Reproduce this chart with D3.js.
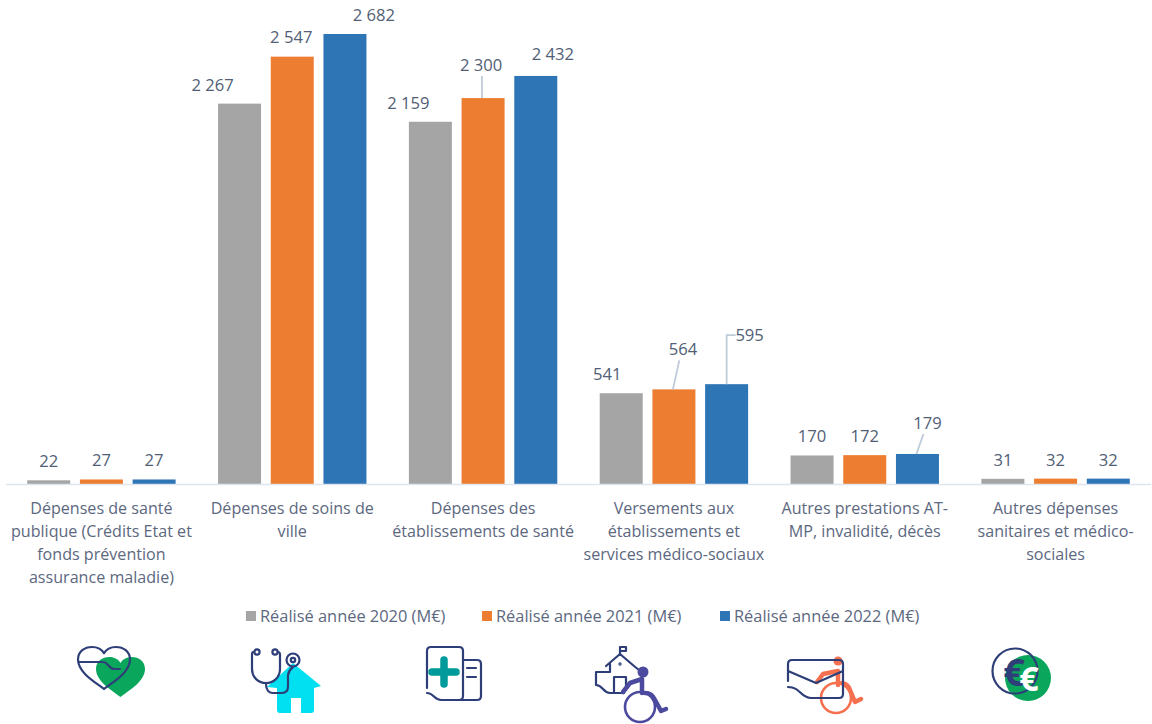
<!DOCTYPE html>
<html lang="fr">
<head>
<meta charset="utf-8">
<style>
  html, body { margin: 0; padding: 0; background: #fff; }
  svg { display: block; }
  text { font-family: "Open Sans", "Noto Sans", sans-serif; }
</style>
<script src="https://cdn.jsdelivr.net/npm/d3@7"></script>
</head>
<body>
<svg id="chart" width="1152" height="724"></svg>
<script>
// Dépenses par poste, en millions d'euros
const categories = [
  ["Dépenses de santé", "publique (Crédits Etat et", "fonds prévention", "assurance maladie)"],
  ["Dépenses de soins de", "ville"],
  ["Dépenses des", "établissements de santé"],
  ["Versements aux", "établissements et", "services médico-sociaux"],
  ["Autres prestations AT-", "MP, invalidité, décès"],
  ["Autres dépenses", "sanitaires et médico-", "sociales"]
];
const seriesNames = ["Réalisé année 2020 (M€)", "Réalisé année 2021 (M€)", "Réalisé année 2022 (M€)"];
const values2020 = [22, 2267, 2159, 541, 170, 31];
const values2021 = [27, 2547, 2300, 564, 172, 32];
const values2022 = [27, 2682, 2432, 595, 179, 32];
const seriesValues = [values2020, values2021, values2022];
const seriesColors = ["#a5a5a5", "#ed7d31", "#2e75b6"];

// Étiquettes déplacées à la main : [groupe, série, dx, dy, repère éventuel]
const labelMoves = [
  [1, 0, -27, 0], [1, 1, -1, -1], [1, 2, 29, 0],
  [2, 0, -22, 0], [2, 1, -2, -14, "slant"], [2, 2, 17, -3],
  [3, 0, -14, 0], [3, 1, 9, -21, "slant"], [3, 2, 23, -30, "elbow"],
  [4, 2, 10, -12, "slant"]
];

const svg = d3.select("#chart");
const baseY = 484;
const x0 = d3.scaleBand().domain(d3.range(categories.length)).range([6, 1151]).paddingInner(0).paddingOuter(0);
const y = d3.scaleLinear().domain([0, 2682]).range([baseY, 34]);
const barWidth = 43, barPitch = 52.7;
const barCenter = (g, s) => x0(g) + x0.bandwidth() / 2 + (s - 1) * barPitch;
const fmt = v => String(v).replace(/\B(?=(\d{3})+$)/g, " ");

// Barres groupées
seriesValues.forEach((vals, s) => {
  svg.append("g").selectAll("rect").data(vals).join("rect")
    .attr("x", (d, g) => barCenter(g, s) - barWidth / 2)
    .attr("y", d => y(d))
    .attr("width", barWidth)
    .attr("height", d => baseY - y(d))
    .attr("fill", seriesColors[s]);
});

// Axe horizontal
svg.append("line").attr("x1", 6).attr("x2", 1151).attr("y1", baseY + 0.5).attr("y2", baseY + 0.5)
  .attr("stroke", "#dfe5ee").attr("stroke-width", 1.5);

// Libellés de catégories
const catG = svg.append("g").attr("text-anchor", "middle").attr("fill", "#5c6880").attr("font-size", 16.1);
categories.forEach((lines, g) => {
  lines.forEach((line, i) => {
    catG.append("text").attr("x", x0(g) + x0.bandwidth() / 2).attr("y", 513.5 + i * 23).text(line);
  });
});

// Valeurs et repères
const labelG = svg.append("g").attr("text-anchor", "middle").attr("fill", "#515e75").attr("font-size", 16.6);
const leaderG = svg.append("g").attr("fill", "none").attr("stroke", "#bfcadb").attr("stroke-width", 1.8);
seriesValues.forEach((vals, s) => {
  vals.forEach((v, g) => {
    const move = labelMoves.find(m => m[0] === g && m[1] === s) || [g, s, 0, 0];
    const cx = barCenter(g, s), top = y(v);
    const lx = cx + move[2], ly = top - 19 + move[3];
    labelG.append("text").attr("x", lx).attr("y", ly + 6).text(fmt(v));
    if (move[4] === "slant") {
      leaderG.append("path").attr("d", `M${cx - 1},${top} L${cx + 0.6 * move[2]},${ly + 11}`);
    } else if (move[4] === "elbow") {
      leaderG.append("path").attr("d", `M${cx},${top} V${ly} H${lx - 14}`);
    }
  });
});

// Légende
const legendX = [246, 482, 720];
const legG = svg.append("g").attr("fill", "#5c6880").attr("font-size", 16.4);
seriesNames.forEach((name, s) => {
  legG.append("rect").attr("x", legendX[s]).attr("y", 611).attr("width", 10).attr("height", 10).attr("fill", seriesColors[s]);
  legG.append("text").attr("x", legendX[s] + 14).attr("y", 622).text(name);
});

// Pictogrammes sous la légende
const navy = "#2e3e78";
const icons = svg.append("g").attr("fill", "none").attr("stroke", navy).attr("stroke-width", 2.2)
  .attr("stroke-linecap", "round").attr("stroke-linejoin", "round");
const heartPath = (px, py, w, h) => {
  const X = t => (px + t * w).toFixed(1), Y = t => (py + t * h).toFixed(1);
  return `M${X(.5)},${Y(1)} C${X(.36)},${Y(.86)} ${X(0)},${Y(.62)} ${X(0)},${Y(.3)} ` +
    `C${X(0)},${Y(.1)} ${X(.13)},${Y(0)} ${X(.27)},${Y(0)} C${X(.38)},${Y(0)} ${X(.46)},${Y(.06)} ${X(.5)},${Y(.15)} ` +
    `C${X(.54)},${Y(.06)} ${X(.62)},${Y(0)} ${X(.73)},${Y(0)} C${X(.87)},${Y(0)} ${X(1)},${Y(.1)} ${X(1)},${Y(.3)} ` +
    `C${X(1)},${Y(.62)} ${X(.64)},${Y(.86)} ${X(.5)},${Y(1)} Z`;
};

// Santé publique : deux cœurs
icons.append("path").attr("d", heartPath(96, 657, 49, 40)).attr("fill", "#0aa65c").attr("stroke", "none");
icons.append("path").attr("d", heartPath(78, 647, 52, 42));
icons.append("path").attr("d", "M79,662 H103 C108,662 109,669 114,669 H120");

// Soins de ville : maison et stéthoscope
icons.append("path").attr("fill", "#00e0f0").attr("stroke", "none")
  .attr("d", "M293,663 L321,686 L314,688 V710 Q314,713 311,713 H301 V698 H291 V713 H280 Q277,713 277,710 V688 L267,687 Z");
icons.append("path").attr("d", "M254,652 H253 Q252,652 252,655 V669 C252,678 259,683 266,683 C273,683 280,678 280,669 V655 Q280,652 278,652");
icons.append("circle").attr("cx", 257).attr("cy", 652).attr("r", 2.6);
icons.append("circle").attr("cx", 275).attr("cy", 652).attr("r", 2.6);
icons.append("path").attr("d", "M266,684 C266,690 269,693 273,693 H282 C286,693 288,690 288,686 V675 Q289,670 293,667");
icons.append("circle").attr("cx", 293).attr("cy", 660).attr("r", 6.5);
icons.append("circle").attr("cx", 293).attr("cy", 660).attr("r", 2.2);

// Établissements de santé : dossier et croix
icons.append("path").attr("d", "M427,688 V651 Q427,647 431,647 H459 Q463,647 463,651 V696 Q463,700 459,700 H441 C434,700 434,693 427,693");
icons.append("path").attr("d", "M463,660 H477 Q481,660 481,664 V696 Q481,700 477,700 H459");
icons.append("path").attr("d", "M467,668 H476 M467,677 H476");
icons.append("path").attr("d", "M444,660 V684 M432,672 H456").attr("stroke", "#009a9a").attr("stroke-width", 7.5);

// Établissements médico-sociaux : école et fauteuil
icons.append("path").attr("d", "M620,655 V647 H626 V651 H620");
icons.append("path").attr("d", "M606,666 L620,654 L634,666 M610,664 V672 H596 V685 C603,685 603,693 610,693 H624 M614,693 V677 H626 V686 M634,666 L639,670");
icons.append("circle").attr("cx", 620).attr("cy", 664).attr("r", 0.6);
const purple = "#4b4a9e";
icons.append("circle").attr("cx", 643).attr("cy", 672).attr("r", 5.5).attr("fill", purple).attr("stroke", "none");
icons.append("circle").attr("cx", 640).attr("cy", 707).attr("r", 15).attr("stroke", purple).attr("stroke-width", 2.6);
icons.append("path").attr("stroke", purple).attr("stroke-width", 4.5).attr("d", "M623,692 L630,683 L642,679 V693 M645,693 Q652,693 655,700 L661,711 L666,709");

// Autres prestations : enveloppe et fauteuil
const coral = "#f4704e";
icons.append("circle").attr("cx", 838).attr("cy", 661).attr("r", 4.5).attr("fill", coral).attr("stroke", "none");
icons.append("path").attr("stroke", coral).attr("stroke-width", 4.5).attr("d", "M817,682 L823,674 L838,671 V685 M842,683 Q848,684 850,690 L855,702 L861,699");
icons.append("circle").attr("cx", 836).attr("cy", 698).attr("r", 15).attr("stroke", coral).attr("stroke-width", 2.6);
icons.append("path").attr("d", "M788,681 V664 Q788,660 792,660 H839 Q843,660 843,664 V694 Q843,698 839,698 H811 C800,698 801,687 788,687");
icons.append("path").attr("d", "M788,671 L816,683 L843,671");

// Autres dépenses : pièces en euros
icons.append("circle").attr("cx", 1028).attr("cy", 678).attr("r", 23).attr("fill", "#0aa65c").attr("stroke", "none");
icons.append("circle").attr("cx", 1015).attr("cy", 671).attr("r", 22.5);
icons.append("text").attr("x", 1014).attr("y", 686).attr("text-anchor", "middle").attr("font-size", 38).attr("font-weight", 700)
  .attr("fill", navy).attr("stroke", "none").text("€");
icons.append("text").attr("x", 1029).attr("y", 691).attr("text-anchor", "middle").attr("font-size", 34).attr("font-weight", 700)
  .attr("fill", "#fff").attr("stroke", "none").text("€");
</script>
</body>
</html>
